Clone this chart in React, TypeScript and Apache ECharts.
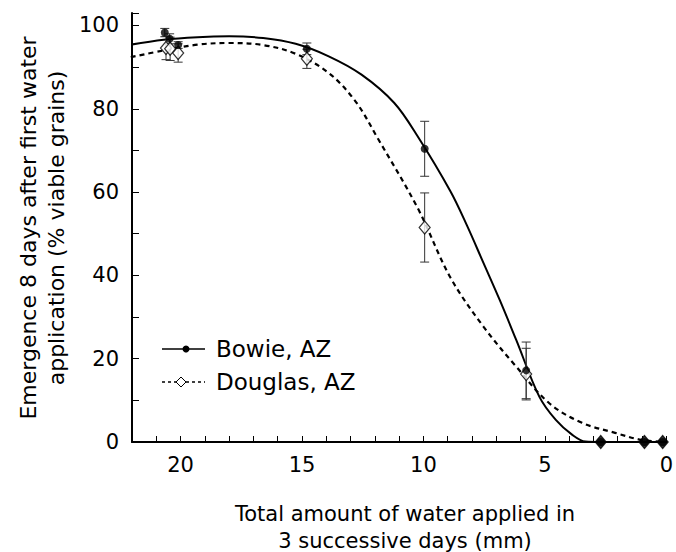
import React, { useEffect, useRef } from "react";
import * as echarts from "echarts";

// Observed data points (x = mm of water, y = emergence %)
const bowieX = [20.65, 20.45, 20.1, 14.8, 9.95, 5.77, 2.7, 0.9, 0.15];
const bowieY = [98.3, 96.8, 95.3, 94.4, 70.4, 17.2, 0, 0, 0];
const bowieErr = [1.0, 1.2, 0.8, 1.4, 6.6, 6.8, 0, 0, 0];

const douglasX = [20.6, 20.43, 20.1, 14.8, 9.95, 5.77, 2.7, 0.9, 0.15];
const douglasY = [94.6, 94.4, 93.4, 92.0, 51.5, 16.3, 0, 0, 0];
const douglasErr = [2.8, 2.8, 2.2, 2.3, 8.3, 6.2, 0, 0, 0];

// Fitted curves
const bowieCurveX = [22.05, 20.7, 19.3, 18.0, 16.6, 15.26, 13.9, 12.55, 11.2, 10.24, 8.89, 8.21, 7.53, 6.86, 6.18, 5.23, 4.55, 3.87, 3.33, 2.7, 0];
const bowieCurveY = [95.4, 96.6, 97.2, 97.4, 97.0, 95.6, 92.6, 88.2, 81.4, 73.4, 60.2, 52.0, 43.0, 34.1, 24.5, 10.9, 5.3, 1.7, 0.1, 0, 0];

const douglasCurveX = [22.05, 20.7, 19.3, 18.0, 16.6, 15.26, 13.9, 12.8, 11.87, 10.24, 8.89, 7.53, 6.18, 4.82, 3.47, 2.11, 1.03, 0];
const douglasCurveY = [92.4, 94.0, 95.4, 95.8, 95.3, 93.2, 88.6, 81.8, 72.8, 56.2, 39.5, 27.7, 18.1, 9.3, 4.6, 2.2, 0.5, 0];

const xTicksLabeled = [0, 5, 10, 15, 20];
const yTicksLabeled = [0, 20, 40, 60, 80, 100];

const FONT = "'DejaVu Sans', Verdana, sans-serif";

const zip2 = (a: number[], b: number[]) => a.map((v, i) => [v, b[i]]);
const zip3 = (a: number[], b: number[], c: number[]) => a.map((v, i) => [v, b[i], c[i]]);

const errorRender = (capHalf: number) => (params: any, api: any) => {
  const x = api.value(0);
  const y = api.value(1);
  const e = api.value(2);
  if (!e) return null;
  const top = api.coord([x, y + e]);
  const bot = api.coord([x, y - e]);
  const st = { stroke: "#333", lineWidth: 1 };
  return {
    type: "group",
    children: [
      { type: "line", shape: { x1: top[0], y1: top[1], x2: bot[0], y2: bot[1] }, style: st },
      { type: "line", shape: { x1: top[0] - capHalf, y1: top[1], x2: top[0] + capHalf, y2: top[1] }, style: st },
      { type: "line", shape: { x1: bot[0] - capHalf, y1: bot[1], x2: bot[0] + capHalf, y2: bot[1] }, style: st },
    ],
  };
};

const centered = { align: "center", verticalAlign: "middle", textAlign: "center", textVerticalAlign: "middle" };

export default function App() {
  const ref = useRef<HTMLDivElement>(null);
  useEffect(() => {
    document.body.style.margin = "0";
    const chart = echarts.init(ref.current!, null, { renderer: "svg" });
    const legendY1 = 349;
    const legendY2 = 382;
    chart.setOption({
      animation: false,
      backgroundColor: "#fff",
      grid: { left: 132, right: 4, top: 13, bottom: 110, containLabel: false },
      xAxis: {
        type: "value",
        inverse: true,
        min: 0,
        max: 22,
        interval: 1,
        splitLine: { show: false },
        axisLine: { show: true, onZero: false, lineStyle: { color: "#000", width: 2 } },
        axisTick: { show: true, inside: true, length: 6, lineStyle: { color: "#000", width: 1 } },
        axisLabel: {
          margin: 12,
          color: "#000",
          fontFamily: FONT,
          fontSize: 21,
          formatter: (v: number) => (xTicksLabeled.includes(v) ? String(v) : ""),
        },
      },
      yAxis: {
        type: "value",
        min: 0,
        max: 103,
        interval: 10,
        splitLine: { show: false },
        axisLine: { show: true, onZero: false, lineStyle: { color: "#000", width: 2 } },
        axisTick: { show: true, inside: true, length: 7, lineStyle: { color: "#000", width: 1 } },
        axisLabel: {
          margin: 13,
          color: "#000",
          fontFamily: FONT,
          fontSize: 21,
          formatter: (v: number) => (yTicksLabeled.includes(v) ? String(v) : ""),
        },
      },
      series: [
        {
          name: "Bowie curve",
          type: "line",
          data: zip2(bowieCurveX, bowieCurveY),
          smooth: 0.35,
          showSymbol: false,
          symbol: "none",
          lineStyle: { color: "#000", width: 2 },
          z: 3,
        },
        {
          name: "Douglas curve",
          type: "line",
          data: zip2(douglasCurveX, douglasCurveY),
          smooth: 0.35,
          showSymbol: false,
          symbol: "none",
          lineStyle: { color: "#000", width: 2.2, type: [5, 4] },
          z: 3,
        },
        {
          name: "Douglas err",
          type: "custom",
          data: zip3(douglasX, douglasY, douglasErr),
          encode: { x: 0, y: 1 },
          renderItem: errorRender(4.5),
          z: 4,
        },
        {
          name: "Bowie err",
          type: "custom",
          data: zip3(bowieX, bowieY, bowieErr),
          encode: { x: 0, y: 1 },
          renderItem: errorRender(4.5),
          z: 4,
        },
        {
          name: "Douglas, AZ",
          type: "scatter",
          data: zip2(douglasX, douglasY),
          symbol: "diamond",
          symbolSize: [11, 13],
          itemStyle: {
            color: (p: any) => (p.value[1] === 0 ? "#000" : "#fff"),
            borderColor: "#000",
            borderWidth: 1.2,
          },
          z: 5,
        },
        {
          name: "Bowie, AZ",
          type: "scatter",
          data: zip2(bowieX, bowieY),
          symbol: "circle",
          symbolSize: 8,
          itemStyle: { color: "#000" },
          z: 6,
        },
      ],
      graphic: [
        // y axis title
        {
          type: "text",
          x: 28,
          y: 228,
          rotation: Math.PI / 2,
          style: { text: "Emergence 8 days after first water", fill: "#000", font: `22px ${FONT}`, ...centered },
        },
        {
          type: "text",
          x: 56,
          y: 228,
          rotation: Math.PI / 2,
          style: { text: "application (% viable grains)", fill: "#000", font: `22px ${FONT}`, ...centered },
        },
        // x axis title
        {
          type: "text",
          x: 405,
          y: 514,
          style: { text: "Total amount of water applied in", fill: "#000", font: `21px ${FONT}`, ...centered },
        },
        {
          type: "text",
          x: 405,
          y: 541,
          style: { text: "3 successive days (mm)", fill: "#000", font: `21px ${FONT}`, ...centered },
        },
        // legend
        { type: "line", shape: { x1: 162, y1: legendY1, x2: 205, y2: legendY1 }, style: { stroke: "#000", lineWidth: 1.5 } },
        { type: "circle", shape: { cx: 186, cy: legendY1, r: 3.5 }, style: { fill: "#000" } },
        {
          type: "text",
          x: 216,
          y: legendY1,
          style: { text: "Bowie, AZ", fill: "#000", font: `23px ${FONT}`, verticalAlign: "middle", textVerticalAlign: "middle" },
        },
        { type: "line", shape: { x1: 162, y1: legendY2, x2: 205, y2: legendY2 }, style: { stroke: "#000", lineWidth: 1.5, lineDash: [3, 3] } },
        {
          type: "polygon",
          shape: { points: [[181, legendY2 - 5], [186, legendY2], [181, legendY2 + 5], [176, legendY2]] },
          style: { fill: "#fff", stroke: "#000", lineWidth: 1 },
        },
        {
          type: "text",
          x: 216,
          y: legendY2,
          style: { text: "Douglas, AZ", fill: "#000", font: `23px ${FONT}`, verticalAlign: "middle", textVerticalAlign: "middle" },
        },
      ],
    });
    return () => chart.dispose();
  }, []);
  return <div ref={ref} style={{ width: 676, height: 552, position: "absolute", left: 0, top: 0 }} />;
}
